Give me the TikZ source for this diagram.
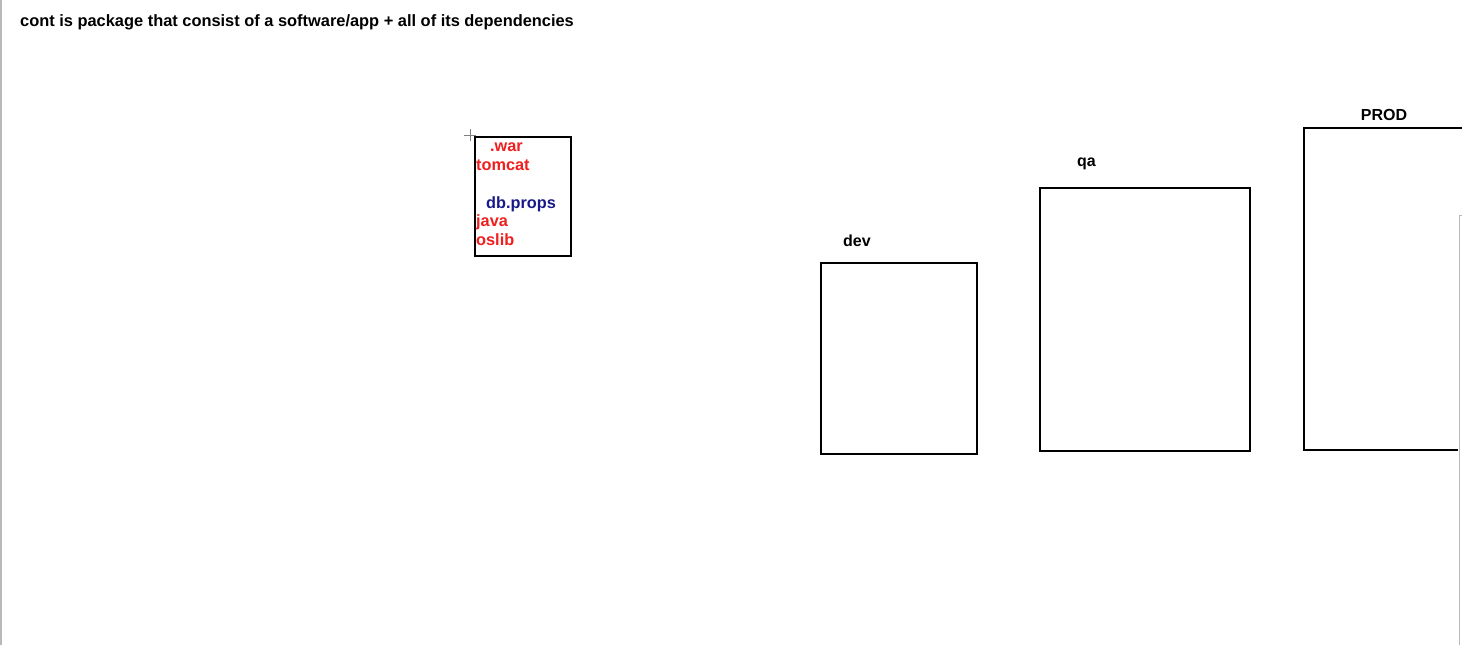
\documentclass[tikz,border=0pt]{standalone}
\usepackage{fontspec}
\setmainfont{Liberation Sans}
\definecolor{txtred}{RGB}{240,30,30}
\definecolor{txtblue}{RGB}{25,25,140}
\definecolor{edgegrey}{RGB}{185,185,185}
\begin{document}
\begin{tikzpicture}[x=1pt,y=-1pt,
  env/.style={draw=black,line width=1.3pt},
  lbl/.style={font=\bfseries\fontsize{16}{18}\selectfont,inner sep=0pt,anchor=base west},
  pkg/.style={font=\bfseries\fontsize{16.3}{19}\selectfont,inner sep=0pt,anchor=base west}]
\useasboundingbox (0,0) rectangle (1462,645);
\fill[white] (0,0) rectangle (1462,645);
% left edge bar
\fill[edgegrey] (0,0) rectangle (2,645);
% title
\node[lbl,font=\bfseries\fontsize{16.4}{18}\selectfont] (title) at (20,26) {cont is package that consist of a software/app + all of its dependencies};
% cursor cross
\coordinate (cc) at (470,135);
\draw[gray,line width=0.6pt] ([xshift=-6pt]cc) -- ([xshift=6pt]cc) ([yshift=-6pt]cc) -- ([yshift=6pt]cc);
% package box
\draw[env] (475,137) rectangle (571,256);
\node[pkg,text=txtred] (war) at (490,151) {.war};
\node[pkg,text=txtred] (tomcat) at (476,170) {tomcat};
\node[pkg,text=txtblue] (db) at (486,208) {db.props};
\node[pkg,text=txtred] (java) at (476,226) {java};
\node[pkg,text=txtred] (oslib) at (476,245) {oslib};
% environments
\draw[env] (821,263) rectangle (977,454);
\node[lbl] (dev) at (843,246) {dev};
\draw[env] (1040,188) rectangle (1250,451);
\node[lbl] (qa) at (1077,166) {qa};
\draw[env] (1462,128) -- (1304,128) -- (1304,450) -- (1458,450);
\node[lbl,anchor=base] (prod) at (1384,120) {PROD};
% right panel edge
\draw[edgegrey,line width=0.8pt] (1462,215) -- (1459,215) -- (1459,645);
\end{tikzpicture}
\end{document}
